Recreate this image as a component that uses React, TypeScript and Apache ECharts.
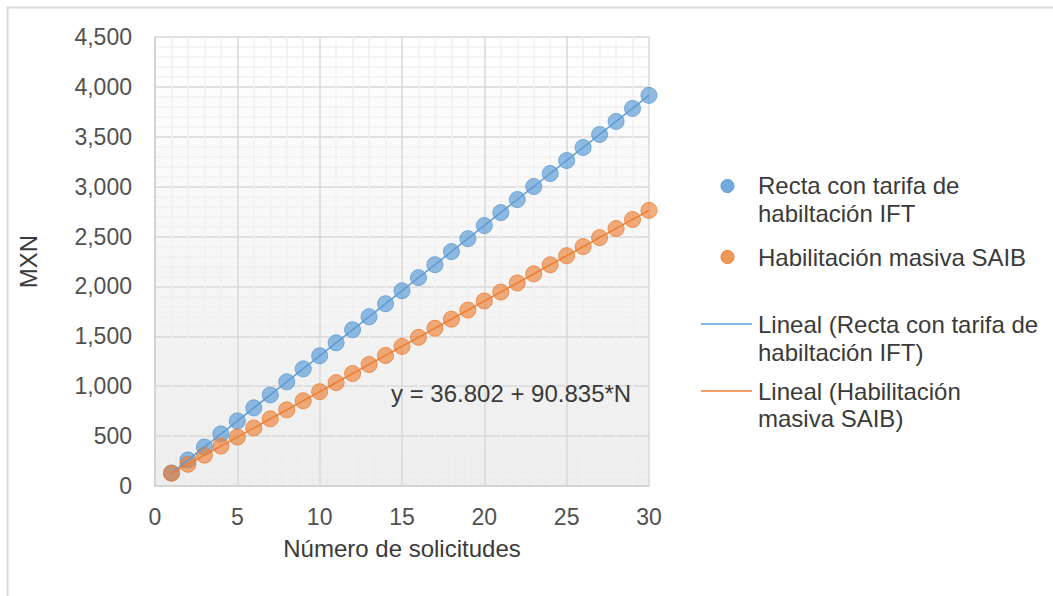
import React, { useEffect, useRef } from "react";
import * as echarts from "echarts";

const solicitudes = [1, 2, 3, 4, 5, 6, 7, 8, 9, 10, 11, 12, 13, 14, 15, 16, 17, 18, 19, 20, 21, 22, 23, 24, 25, 26, 27, 28, 29, 30];
const rectaIFT = [130, 261, 391, 522, 652, 783, 913, 1044, 1174, 1305, 1435, 1566, 1696, 1827, 1957, 2088, 2218, 2349, 2479, 2610, 2740, 2871, 3001, 3132, 3262, 3393, 3523, 3654, 3784, 3915];
const masivaSAIB = [128, 218, 309, 400, 491, 582, 673, 763, 854, 945, 1036, 1127, 1218, 1308, 1399, 1490, 1581, 1672, 1763, 1854, 1944, 2035, 2126, 2217, 2308, 2399, 2489, 2580, 2671, 2762];
const trendIFT = [[1, 130], [30, 3915]];
const trendSAIB = [[1, 127.6], [30, 2761.9]];
const seriesNames = ["Recta con tarifa de habiltación IFT", "Habilitación masiva SAIB", "Lineal (Recta con tarifa de habiltación IFT)", "Lineal (Habilitación masiva SAIB)"];
const equation = "y = 36.802 + 90.835*N";
const xTitle = "Número de solicitudes";
const yTitle = "MXN";

const BLUE = "#5b9bd5";
const ORANGE = "#ed7d31";
const FONT = "'Liberation Sans', Arial, sans-serif";
const TXT = "#3a3a3a";

export default function App() {
  const ref = useRef<HTMLDivElement>(null);
  useEffect(() => {
    if (!ref.current) return;
    const chart = echarts.init(ref.current, null, { renderer: "svg" });
    const legendText = (x: number, y: number, s: string) => ({
      type: "text", x, y,
      style: { text: s, fill: TXT, font: `24px ${FONT}`, textVerticalAlign: "middle", textAlign: "left" },
    });
    chart.setOption({
      animation: false,
      backgroundColor: "#ffffff",
      textStyle: { fontFamily: FONT },
      grid: {
        left: 155, right: 404, top: 37, bottom: 110,
        show: true,
        borderWidth: 0,
        backgroundColor: new echarts.graphic.LinearGradient(0, 0, 0, 1, [
          { offset: 0, color: "#ffffff" },
          { offset: 1, color: "#ededed" },
        ]),
      },
      xAxis: {
        type: "value", min: 0, max: 30, interval: 5,
        name: xTitle, nameLocation: "middle", nameGap: 50,
        nameTextStyle: { fontSize: 24, color: TXT, fontFamily: FONT },
        axisLine: { show: true, lineStyle: { color: "#cfcfcf", width: 1.5 } },
        axisTick: { show: false },
        axisLabel: { fontSize: 23, color: "#505050", margin: 19, fontFamily: FONT },
        splitLine: { show: true, lineStyle: { color: "#d9d9d9", width: 1.5 } },
        minorTick: { show: false, splitNumber: 5 },
        minorSplitLine: { show: true, lineStyle: { color: "#f0f0f0", width: 1.5 } },
      },
      yAxis: {
        type: "value", min: 0, max: 4500, interval: 500,
        name: yTitle, nameLocation: "middle", nameGap: 115, nameRotate: 90,
        nameTextStyle: { fontSize: 24, color: TXT, fontFamily: FONT },
        axisLine: { show: true, lineStyle: { color: "#cfcfcf", width: 1.5 } },
        axisTick: { show: false },
        axisLabel: {
          fontSize: 23, color: "#505050", margin: 23, fontFamily: FONT,
          formatter: (v: number) => v.toLocaleString("en-US"),
        },
        splitLine: { show: true, lineStyle: { color: "#d9d9d9", width: 1.5 } },
        minorTick: { show: false, splitNumber: 5 },
        minorSplitLine: { show: true, lineStyle: { color: "#f0f0f0", width: 1.5 } },
      },
      series: [
        {
          name: seriesNames[0], type: "scatter", symbol: "circle", symbolSize: 16, z: 2,
          itemStyle: { color: "rgba(91,155,213,0.85)", borderColor: BLUE, borderWidth: 1 },
          data: solicitudes.map((n, i) => [n, rectaIFT[i]]),
        },
        {
          name: seriesNames[1], type: "scatter", symbol: "circle", symbolSize: 16, z: 3,
          itemStyle: { color: "rgba(237,125,49,0.8)", borderColor: ORANGE, borderWidth: 1 },
          data: solicitudes.map((n, i) => [n, masivaSAIB[i]]),
        },
        {
          name: seriesNames[2], type: "line", showSymbol: false, z: 4,
          lineStyle: { color: BLUE, width: 1.5 }, data: trendIFT,
        },
        {
          name: seriesNames[3], type: "line", showSymbol: false, z: 5,
          lineStyle: { color: ORANGE, width: 1.5 }, data: trendSAIB,
        },
      ],
      graphic: [
        { type: "line", shape: { x1: 7, y1: 7.5, x2: 1053, y2: 7.5 }, style: { stroke: "#dcdcdc", lineWidth: 2 } },
        { type: "line", shape: { x1: 7.5, y1: 7, x2: 7.5, y2: 596 }, style: { stroke: "#dcdcdc", lineWidth: 2 } },
        {
          type: "text", x: 391, y: 393, z: 10,
          style: { text: equation, fill: TXT, font: `24px ${FONT}`, textVerticalAlign: "middle", textAlign: "left" },
        },
        { type: "circle", shape: { cx: 727.5, cy: 186, r: 6.5 }, style: { fill: "rgba(91,155,213,0.85)", stroke: BLUE, lineWidth: 1 } },
        legendText(758, 185, "Recta con tarifa de"),
        legendText(758, 213, "habiltación IFT"),
        { type: "circle", shape: { cx: 727.5, cy: 257, r: 6.5 }, style: { fill: "rgba(237,125,49,0.8)", stroke: ORANGE, lineWidth: 1 } },
        legendText(758, 257, "Habilitación masiva SAIB"),
        { type: "line", shape: { x1: 701, y1: 324, x2: 752, y2: 324 }, style: { stroke: BLUE, lineWidth: 1.5 } },
        legendText(758, 324, "Lineal (Recta con tarifa de"),
        legendText(758, 352, "habiltación IFT)"),
        { type: "line", shape: { x1: 701, y1: 391, x2: 752, y2: 391 }, style: { stroke: ORANGE, lineWidth: 1.5 } },
        legendText(758, 391, "Lineal (Habilitación"),
        legendText(758, 418, "masiva SAIB)"),
      ],
    });
    return () => chart.dispose();
  }, []);
  return <div ref={ref} style={{ position: "fixed", left: 0, top: 0, width: 1053, height: 596 }} />;
}
